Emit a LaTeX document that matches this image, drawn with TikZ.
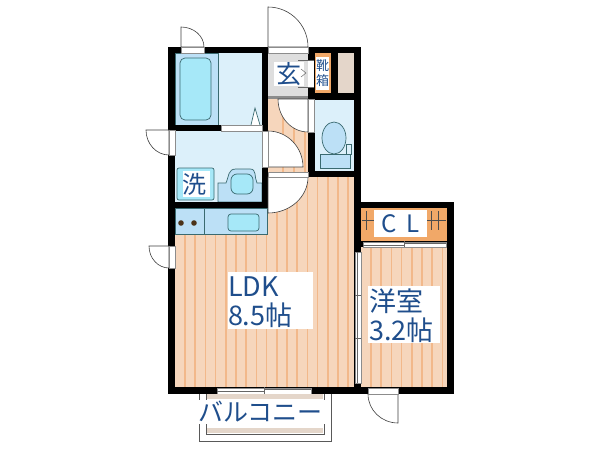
\documentclass[tikz,border=0pt]{standalone}
\usepackage{fontspec}
\usetikzlibrary{calc}
\setmainfont{Noto Sans CJK JP}
\definecolor{txt}{HTML}{1F4E8C}
\definecolor{floorc}{HTML}{F6D6BC}
\definecolor{stripe}{HTML}{F2B88A}
\definecolor{lblue}{HTML}{DCF0FA}
\definecolor{mblue}{HTML}{BCE0F6}
\definecolor{cyanb}{HTML}{A6E8F8}
\definecolor{edgeb}{HTML}{3A6A70}
\definecolor{orng}{HTML}{F1A868}
\definecolor{grayf}{HTML}{DEDEDE}
\definecolor{beige}{HTML}{E4D6CA}
\tikzset{
  wall/.style={fill=black,draw=none},
  opening/.style={fill=white,draw=black!45,line width=0.6pt},
  swing/.style={fill=white,draw=black!75,line width=0.6pt},
  fixture/.style={draw=edgeb,line width=0.7pt},
  stripeline/.style={stripe,line width=1.6pt},
  lbl/.style={fill=white,text=txt,inner sep=0pt,align=center},
  lblleft/.style={text=txt,inner sep=0pt,align=left},
  rail/.style={black!60,line width=0.7pt},
}
% hinge, leaf end, arc end
\newcommand{\doorleaf}[3]{\draw[swing] (#1) -- (#2) .. controls ($(#2)+.5523*(#3)-.5523*(#1)$) and ($(#3)+.5523*(#2)-.5523*(#1)$) .. (#3) -- cycle;}
\begin{document}
\begin{tikzpicture}[x=1pt,y=-1pt]
\useasboundingbox (0,0) rectangle (600,450);
\fill[white] (0,0) rectangle (600,450);
% floors
\fill[floorc] (175,177) rectangle (354,387);
\fill[floorc] (268,97) rectangle (308,177);
\fill[floorc] (361,247) rectangle (447,387);
\foreach \x in {185,195.2,...,350} \draw[stripeline] (\x,177) -- (\x,387);
\foreach \x in {283,294,305} \draw[stripeline] (\x,97) -- (\x,172);
\foreach \x in {371,381.2,...,445} \draw[stripeline] (\x,247) -- (\x,387);
% wet rooms
\fill[lblue] (175,53) rectangle (262,125);
\fill[lblue] (175,131) rectangle (262,202);
\fill[lblue] (315,100) rectangle (354,171);
\fill[mblue,draw=edgeb,line width=.4pt] (175,53) rectangle (218,125);
\draw[fixture,fill=cyanb,rounded corners=5pt] (180,58) rectangle (211,120);
\draw[fixture,fill=white] (251,125) -- (255,108) -- (260,125);
% kitchen
\fill[mblue,draw=edgeb,line width=.5pt] (175,208) rectangle (267,234);
\draw[edgeb,line width=.5pt] (204,208) -- (204,234);
\fill[black!60!brown] (181,223) circle (2.8);
\fill[black!60!brown] (194,223) circle (2.8);
\draw[fixture,fill=cyanb,rounded corners=3pt] (228,214) rectangle (259,231);
% washer / basin
\draw[fixture,fill=cyanb,rounded corners=2pt] (177,168) rectangle (214,200);
\fill[white] (183,171) rectangle (210,197);
\draw[fixture,fill=mblue] (218,202) -- (218,183) -- (226,183) .. controls (229,176) and (228,169) .. (236,169) -- (250,169) .. controls (257,169) and (254,177) .. (257,183) -- (262,183) -- (262,202) -- cycle;
\draw[fixture,fill=cyanb,rounded corners=6pt] (231,174) rectangle (253,194);
% entrance
\fill[grayf] (268,53) rectangle (308,96);
\fill[black!45] (268,96) rectangle (308,99);
\fill[orng] (314,53) rectangle (331,93);
\fill[white] (316,57) rectangle (329,90);
\fill[beige] (338,53) rectangle (354,93);
% toilet
\draw[fixture,fill=mblue] (334,138) ellipse (12 and 16);
\draw[fixture,fill=lblue] (346,144) rectangle (351,154);
\draw[fixture,fill=mblue] (320,154) rectangle (350,168);
% closet
\fill[orng] (361,208) rectangle (447,241);
\draw[black!70,line width=.7pt] (362,220) -- (446,220);
\foreach \x in {366,431,438} \draw[black!70,line width=.7pt] (\x,211) -- (\x,230);
% walls
\fill[wall] (168,47) rectangle (360.5,53);
\fill[wall] (168,47) rectangle (175,394);
\fill[wall] (168,387) rectangle (454,394);
\fill[wall] (354,47) rectangle (361,394);
\fill[wall] (361,202) rectangle (454,208);
\fill[wall] (447,202) rectangle (454,394);
\fill[wall] (262,47) rectangle (268,208);
\fill[wall] (175,125) rectangle (262,131);
\fill[wall] (168,202) rectangle (268,208);
\fill[wall] (308,47) rectangle (315,177);
\fill[wall] (331,47) rectangle (338,100);
\fill[wall] (308,93) rectangle (354,100);
\fill[wall] (308,171) rectangle (354,177);
\fill[wall] (361,241) rectangle (454,247);
% door leaves
\coordinate (h1) at (181,47); \coordinate (p1) at (181,27); \coordinate (q1) at (204,47);
\coordinate (h2) at (268,47); \coordinate (p2) at (268,7);  \coordinate (q2) at (308,47);
\coordinate (h3) at (169,130); \coordinate (p3) at (146,130); \coordinate (q3) at (169,155);
\coordinate (h4) at (169,246); \coordinate (p4) at (149,246); \coordinate (q4) at (169,268);
\coordinate (h5) at (268,167); \coordinate (p5) at (268,131); \coordinate (q5) at (303,167);
\coordinate (h6) at (268,177); \coordinate (p6) at (308,177); \coordinate (q6) at (268,213);
\coordinate (h7) at (308,99); \coordinate (p7) at (278,99); \coordinate (q7) at (308,132);
\coordinate (h8) at (398,394); \coordinate (p8) at (368,394); \coordinate (q8) at (398,423);
\doorleaf{h1}{p1}{q1}
\doorleaf{h2}{p2}{q2}
\doorleaf{h3}{p3}{q3}
\doorleaf{h4}{p4}{q4}
\doorleaf{h5}{p5}{q5}
\doorleaf{h6}{p6}{q6}
\doorleaf{h7}{p7}{q7}
\doorleaf{h8}{q8}{p8}
% openings
\filldraw[opening] (181,47) rectangle (204,53);
\filldraw[opening] (268,47) rectangle (308,53);
\filldraw[opening] (169,130) rectangle (175,155);
\filldraw[opening] (169,246) rectangle (175,268);
\filldraw[opening] (262,131) rectangle (268,167);
\filldraw[opening] (268,172) rectangle (308,177);
\filldraw[opening] (221,125) rectangle (262,131);
\filldraw[opening] (308,99) rectangle (314,132);
\filldraw[opening] (368,388) rectangle (398,394);
\filldraw[opening] (217,388) rectangle (311,394);
\draw[rail] (217,391) -- (264,391); \draw[rail] (264,389.5) -- (311,389.5);
\draw[rail] (264,387) -- (264,394);
\filldraw[opening] (363,242) rectangle (446,247);
\draw[rail] (363,245) -- (404,245); \draw[rail] (404,243.5) -- (446,243.5);
\draw[rail] (404,241) -- (404,247);
\filldraw[opening] (355,252) rectangle (361,383);
\draw[rail] (357,252) -- (357,383);
\draw[rail] (355,295) -- (361,295); \draw[rail] (355,338) -- (361,338);
% shoe box door
\fill[white] (308,60) rectangle (314,87);
\draw[black!60,line width=.6pt] (298,60) -- (314,60);
\draw[black!60,line width=.6pt] (298,87) -- (314,87);
% balcony
\fill[beige] (207,394) rectangle (323,399);
\fill[beige] (207,428) rectangle (323,433);
\draw[black!65,line width=.8pt] (199,394) -- (199,441) -- (331,441) -- (331,394);
\draw[black!65,line width=.8pt] (206,394) -- (206,434) -- (324,434) -- (324,394);
% labels
\node[lbl,minimum width=30pt,minimum height=24pt,font=\fontsize{25}{25}\selectfont] (genkan) at (289,74) {玄};
\draw[black!50,line width=.6pt] (301,69) -- (306,73) -- (301,77);
\node[lbl,font=\fontsize{13}{14.5}\selectfont] (kutsu) at (322.5,73) {靴\\箱};
\node[lbl,fill=none,font=\fontsize{24}{24}\selectfont] (sen) at (194.5,184) {洗};
\node[lbl,minimum width=53pt,minimum height=27pt,font=\fontsize{24}{24}\selectfont] (cl) at (400.5,223.5) {C\hspace{9pt}L};
\fill[white] (228,272) rectangle (313,329);
\node[lblleft,text width=85pt,font=\fontsize{27}{29}\selectfont] (ldk) at (270.5,302) {LDK\\8.5帖};
\fill[white] (368,286) rectangle (440,343);
\node[lblleft,text width=71pt,font=\fontsize{27}{29}\selectfont] (yo) at (405,315.5) {洋室\\3.2帖};
\node[lbl,minimum width=129pt,minimum height=24pt,font=\fontsize{25}{25}\selectfont] (bal) at (260.5,412) {バルコニー};
\end{tikzpicture}
\end{document}
